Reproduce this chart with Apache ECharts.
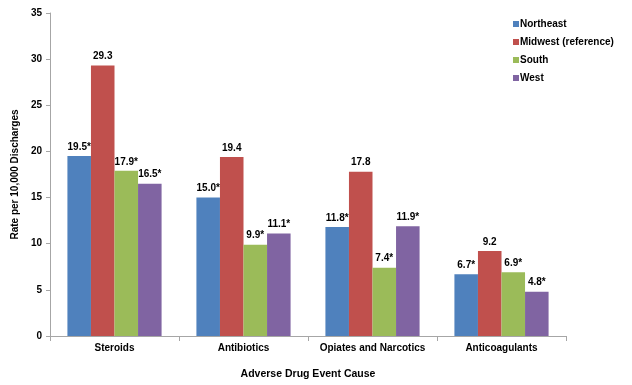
<!DOCTYPE html>
<html><head><meta charset="utf-8">
<script src="https://cdn.jsdelivr.net/npm/echarts@6/dist/echarts.min.js"></script>
<style>html,body{margin:0;padding:0;background:#fff}#c{width:632px;height:385px}</style>
</head><body><div id="c"></div>
<script>
const categories = ['Steroids', 'Antibiotics', 'Opiates and Narcotics', 'Anticoagulants'];
const seriesNames = ['Northeast', 'Midwest (reference)', 'South', 'West'];
const northeast = [19.5, 15.0, 11.8, 6.7];
const midwest = [29.3, 19.4, 17.8, 9.2];
const south = [17.9, 9.9, 7.4, 6.9];
const west = [16.5, 11.1, 11.9, 4.8];
const northeastLabels = ['19.5*', '15.0*', '11.8*', '6.7*'];
const midwestLabels = ['29.3', '19.4', '17.8', '9.2'];
const southLabels = ['17.9*', '9.9*', '7.4*', '6.9*'];
const westLabels = ['16.5*', '11.1*', '11.9*', '4.8*'];
const yTicks = [0, 5, 10, 15, 20, 25, 30, 35];

const colors = ['#4F81BD', '#C0504D', '#9BBB59', '#8064A2'];
const values = [northeast, midwest, south, west];
const labels = [northeastLabels, midwestLabels, southLabels, westLabels];
const font = 'Liberation Sans, Arial, sans-serif';

const chart = echarts.init(document.getElementById('c'), null, {renderer: 'canvas'});
chart.setOption({
  animation: false,
  color: colors,
  textStyle: {fontFamily: font},
  grid: {left: 50, right: 66, top: 13, bottom: 49, containLabel: false},
  legend: {
    orient: 'vertical', left: 508, top: 14, itemWidth: 6, itemHeight: 6, itemGap: 8,
    icon: 'rect',
    textStyle: {fontFamily: font, fontWeight: 'bold', fontSize: 10, color: '#000', padding: [0, 0, 0, -4]},
    data: seriesNames
  },
  xAxis: {
    type: 'category', data: categories,
    axisLine: {lineStyle: {color: '#A6A6A6'}},
    axisTick: {show: true, alignWithLabel: false, length: 5, lineStyle: {color: '#A6A6A6'}},
    axisLabel: {interval: 0, fontFamily: font, fontWeight: 'bold', fontSize: 10, color: '#000', margin: 7},
    name: 'Adverse Drug Event Cause', nameLocation: 'middle', nameGap: 33,
    nameTextStyle: {fontFamily: font, fontWeight: 'bold', fontSize: 10.5, color: '#000'}
  },
  yAxis: {
    type: 'value', min: yTicks[0], max: yTicks[yTicks.length - 1], interval: 5,
    axisLine: {show: true, lineStyle: {color: '#A6A6A6'}},
    axisTick: {show: true, length: 4, lineStyle: {color: '#A6A6A6'}},
    splitLine: {show: false},
    axisLabel: {fontFamily: font, fontWeight: 'bold', fontSize: 10, color: '#000', margin: 8},
    name: 'Rate per 10,000 Discharges', nameLocation: 'middle', nameGap: 25, nameRotate: 90,
    nameTextStyle: {fontFamily: font, fontWeight: 'bold', fontSize: 10, color: '#000'}
  },
  series: seriesNames.map((n, i) => ({
    name: n, type: 'bar', data: values[i],
    barGap: '0%', barCategoryGap: '27%',
    itemStyle: {color: colors[i]},
    label: {
      show: true, position: 'top', distance: 4,
      fontFamily: font, fontWeight: 'bold', fontSize: 10, color: '#000',
      formatter: p => labels[i][p.dataIndex]
    }
  }))
});
</script></body></html>
